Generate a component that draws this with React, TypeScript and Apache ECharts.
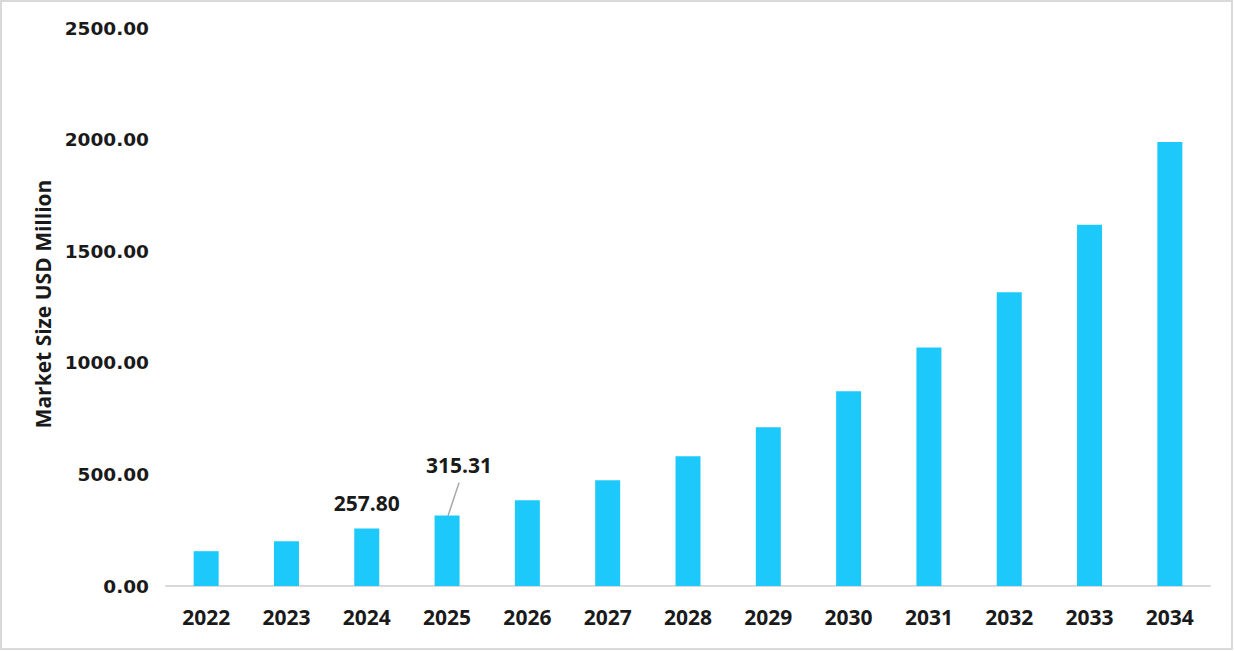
import React, { useEffect, useRef } from 'react';
import * as echarts from 'echarts';

const years = ['2022', '2023', '2024', '2025', '2026', '2027', '2028', '2029', '2030', '2031', '2032', '2033', '2034'];
const marketSize = [156, 201, 257.8, 315.31, 384, 474, 581, 711, 872, 1068, 1316, 1619, 1989];
const labelledIndexes = [2, 3];
// bar whose label is pulled up and joined by a leader line
const leaderIndex = 3;

const BAR_COLOR = '#1DC9FB';
const TEXT_COLOR = '#1a1a1a';

const App: React.FC = () => {
  const chartRef = useRef<HTMLDivElement>(null);

  useEffect(() => {
    if (!chartRef.current) return;
    const chart = echarts.init(chartRef.current, undefined, { renderer: 'svg' });

    const option = {
      animation: false,
      backgroundColor: '#ffffff',
      graphic: [
        {
          type: 'rect',
          shape: { x: 1, y: 1, width: 1231, height: 648 },
          style: { fill: 'none', stroke: '#d9d9d9', lineWidth: 2 },
          silent: true
        }
      ],
      grid: { left: 166, right: 24, top: 28, bottom: 65, containLabel: false },
      xAxis: {
        type: 'category',
        data: years,
        axisLine: { show: true, lineStyle: { color: '#d9d9d9', width: 2 } },
        axisTick: { show: false },
        axisLabel: {
          color: TEXT_COLOR,
          fontFamily: 'Open Sans',
          fontWeight: 'bold',
          fontSize: 21,
          margin: 20
        }
      },
      yAxis: {
        type: 'value',
        min: 0,
        max: 2500,
        interval: 500,
        name: 'Market Size USD Million',
        nameLocation: 'middle',
        nameGap: 112,
        nameTextStyle: {
          color: TEXT_COLOR,
          fontFamily: 'Open Sans',
          fontWeight: 'bold',
          fontSize: 21,
          padding: [0, 0, 0, 6]
        },
        axisLine: { show: false },
        axisTick: { show: false },
        splitLine: { show: false },
        axisLabel: {
          color: TEXT_COLOR,
          fontFamily: 'DejaVu Sans',
          fontWeight: 'bold',
          fontSize: 18.5,
          margin: 17,
          formatter: (v: number) => v.toFixed(2)
        }
      },
      series: [
        {
          type: 'bar',
          barWidth: 25,
          itemStyle: { color: BAR_COLOR },
          data: marketSize.map((v, i) => ({
            value: v,
            label: {
              show: labelledIndexes.includes(i),
              position: 'top',
              distance: 15,
              color: TEXT_COLOR,
              fontFamily: 'Open Sans',
              fontWeight: 'bold',
              fontSize: 21,
              formatter: (p: any) => Number(p.value).toFixed(2)
            }
          })),
          labelLayout: (params: any) =>
            params.dataIndex === leaderIndex ? { dx: 12, dy: -25 } : {}
        },
        {
          type: 'custom',
          silent: true,
          data: [[leaderIndex, marketSize[leaderIndex]]],
          renderItem: (_params: any, api: any) => {
            const p = api.coord([api.value(0), api.value(1)]);
            return {
              type: 'line',
              shape: { x1: p[0] + 1, y1: p[1], x2: p[0] + 12, y2: p[1] - 33 },
              style: { stroke: '#a6a6a6', lineWidth: 1.5 }
            };
          }
        }
      ]
    };

    chart.setOption(option);
    return () => {
      chart.dispose();
    };
  }, []);

  return (
    <div
      ref={chartRef}
      style={{ position: 'absolute', left: 0, top: 0, width: 1234, height: 651 }}
    />
  );
};

export default App;
